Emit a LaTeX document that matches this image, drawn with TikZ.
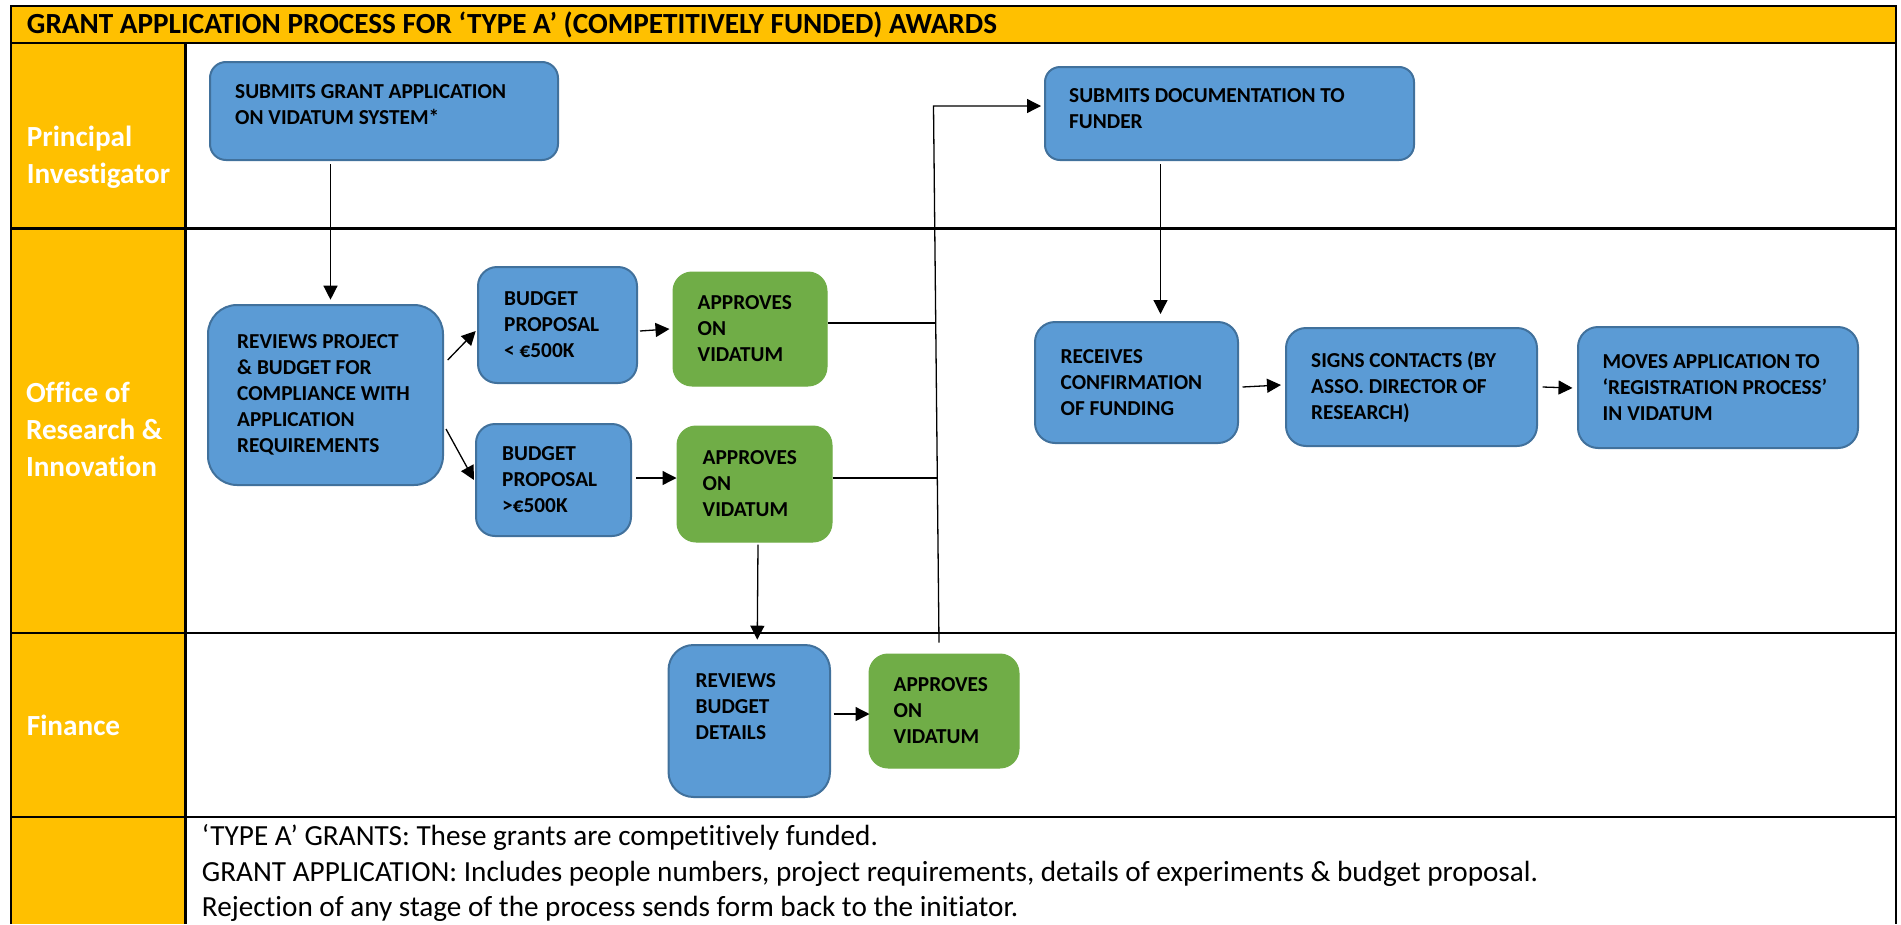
\documentclass[tikz,border=0pt]{standalone}
\usepackage{fontspec}
\setmainfont{Carlito}[Ligatures=NoCommon]
\usetikzlibrary{arrows.meta,calc}
\definecolor{lane}{HTML}{FFC000}
\definecolor{boxblue}{HTML}{5B9BD5}
\definecolor{boxbord}{HTML}{41719C}
\definecolor{boxgreen}{HTML}{70AD47}
\begin{document}
\begin{tikzpicture}[x=1pt,y=1pt,
 bluebox/.style={draw=boxbord, line width=2pt, fill=boxblue, rectangle, inner sep=0pt},
 greenbox/.style={fill=boxgreen, draw=boxgreen, line width=1pt, rectangle, inner sep=0pt},
 boxtext/.style={inner sep=0pt, align=left, font=\fontsize{21.3}{26}\selectfont\bfseries, anchor=west},
 lanetext/.style={inner sep=0pt, anchor=base west, text=white, font=\fontsize{29.2}{36}\selectfont\bfseries},
 notetext/.style={inner sep=0pt, anchor=base west, font=\fontsize{29.2}{36}\selectfont},
 titletext/.style={inner sep=0pt, anchor=base west, font=\fontsize{29.2}{36}\selectfont\bfseries},
 arr/.style={line width=1.3pt, -{Triangle[length=14pt,width=14pt]}},
 link/.style={line width=1.2pt},
 frameline/.style={line width=2.3pt}]
\useasboundingbox (0,0) rectangle (1901,-924);
% frame
\fill[lane] (11,-5.7) rectangle (1895.7,-43.3);
\fill[lane] (11,-43.3) rectangle (185.5,-924);
\draw[frameline] (11,-924) -- (11,-5.7) -- (1895.7,-5.7) -- (1895.7,-924);
\draw[frameline] (11,-43.3) -- (1895.7,-43.3);
\draw[frameline] (11,-228.5) -- (1895.7,-228.5);
\draw[frameline] (11,-632.7) -- (1895.7,-632.7);
\draw[frameline] (11,-816.7) -- (1895.7,-816.7);
\draw[frameline] (185.5,-43.3) -- (185.5,-924);
% title and lanes
\node[titletext] (title) at (26.7,-33.3) {GRANT APPLICATION PROCESS FOR ‘TYPE A’ (COMPETITIVELY FUNDED) AWARDS};
\node[lanetext] (pil1) at (26.7,-146) {Principal};
\node[lanetext] (pil2) at (26.7,-183) {Investigator};
\node[lanetext] (oril1) at (25.8,-402.7) {Office of};
\node[lanetext] (oril2) at (25.8,-439) {Research \&};
\node[lanetext] (oril3) at (25.8,-476.7) {Innovation};
\node[lanetext] (finl) at (26.7,-735) {Finance};
% notes
\node[notetext] (n1) at (201.7,-845.7) {‘TYPE A’ GRANTS: These grants are competitively funded.};
\node[notetext] (n2) at (201.7,-881.7) {GRANT APPLICATION: Includes people numbers, project requirements, details of experiments \& budget proposal.};
\node[notetext] (n3) at (201.7,-916.7) {Rejection of any stage of the process sends form back to the initiator.};
% boxes
\node[bluebox, rounded corners=16pt, minimum width=348pt, minimum height=98pt] (pi1) at (384,-111) {};
\node[boxtext, text depth=12pt] (pi1t) at ($(pi1.west)+(26,0)$) {SUBMITS GRANT APPLICATION\\ON VIDATUM SYSTEM*};
\node[bluebox, rounded corners=29pt, minimum width=235pt, minimum height=180pt] (rev) at (325.5,-395) {};
\node[boxtext] (revt) at ($(rev.west)+(30,0)$) {REVIEWS PROJECT\\\& BUDGET FOR\\COMPLIANCE WITH\\APPLICATION\\REQUIREMENTS};
\node[bluebox, rounded corners=19pt, minimum width=159pt, minimum height=116pt] (b1) at (557.5,-325) {};
\node[boxtext] (b1t) at ($(b1.west)+(27,0)$) {BUDGET\\PROPOSAL\\< €500K};
\node[greenbox, rounded corners=19pt, minimum width=154pt, minimum height=114pt] (a1) at (750,-329) {};
\node[boxtext] (a1t) at ($(a1.west)+(25,0)$) {APPROVES\\ON\\VIDATUM};
\node[bluebox, rounded corners=19pt, minimum width=155pt, minimum height=112pt] (b2) at (553.5,-480) {};
\node[boxtext] (b2t) at ($(b2.west)+(27,0)$) {BUDGET\\PROPOSAL\\>€500K};
\node[greenbox, rounded corners=19pt, minimum width=155pt, minimum height=116pt] (a2) at (754.5,-484) {};
\node[boxtext] (a2t) at ($(a2.west)+(26,0)$) {APPROVES\\ON\\VIDATUM};
\node[bluebox, rounded corners=25pt, minimum width=161.5pt, minimum height=152pt] (fr) at (749.25,-721) {};
\node[boxtext, text depth=28pt] (frt) at ($(fr.west)+(28,0)$) {REVIEWS\\BUDGET\\DETAILS};
\node[greenbox, rounded corners=19pt, minimum width=150pt, minimum height=114pt] (a3) at (944,-711) {};
\node[boxtext] (a3t) at ($(a3.west)+(25,0)$) {APPROVES\\ON\\VIDATUM};
\node[bluebox, rounded corners=15pt, minimum width=369pt, minimum height=93pt] (doc) at (1229.5,-113.5) {};
\node[boxtext, text depth=10pt] (doct) at ($(doc.west)+(25,0)$) {SUBMITS DOCUMENTATION TO\\FUNDER};
\node[bluebox, rounded corners=20pt, minimum width=203pt, minimum height=121pt] (rc) at (1136.5,-382.5) {};
\node[boxtext] (rct) at ($(rc.west)+(26.5,0)$) {RECEIVES\\CONFIRMATION\\OF FUNDING};
\node[bluebox, rounded corners=20pt, minimum width=251pt, minimum height=118pt] (sg) at (1411.5,-387) {};
\node[boxtext] (sgt) at ($(sg.west)+(26,0)$) {SIGNS CONTACTS (BY\\ASSO. DIRECTOR OF\\RESEARCH)};
\node[bluebox, rounded corners=20pt, minimum width=280pt, minimum height=121pt] (mv) at (1718,-387.5) {};
\node[boxtext] (mvt) at ($(mv.west)+(25.5,0)$) {MOVES APPLICATION TO\\‘REGISTRATION PROCESS’\\IN VIDATUM};
% connectors
\coordinate (top) at (933.5,-106);
\coordinate (j1) at (936,-323);
\coordinate (j2) at (937,-478);
\draw[arr] ($(pi1.south)+(-53.5,-3)$) -- ($(rev.north)+(5,4.3)$);
\draw[arr] ($(rev.east)+(3.7,35)$) -- ($(b1.west)+(-1.3,-6)$);
\draw[arr] ($(rev.east)+(2,-34)$) -- ($(b2.west)+(-1,0)$);
\draw[arr] ($(b1.east)+(2,-6)$) -- ($(a1.west)+(-3,0)$);
\draw[arr] ($(b2.east)+(4,2)$) -- ($(a2.west)+(0,6)$);
\draw[arr] ($(a2.south)+(3.5,-2)$) -- ($(fr.north)+(8,4.3)$);
\draw[arr] ($(fr.east)+(2.7,7)$) -- ($(a3.west)+(1,-3)$);
\draw[arr] ($(a3.north)+(-5,11)$) -- (top) -- ($(doc.west)+(-3,7.5)$);
\draw[link] ($(a1.east)+(0,6)$) -- (j1);
\draw[link] ($(a2.east)+(0,6)$) -- (j2);
\draw[arr] ($(doc.south)+(-69,-3)$) -- ($(rc.north)+(24,7)$);
\draw[arr] ($(rc.east)+(3.5,-4.5)$) -- ($(sg.west)+(-4,2)$);
\draw[arr] ($(sg.east)+(4.6,0)$) -- ($(mv.west)+(-4.5,-0.5)$);
\end{tikzpicture}
\end{document}
